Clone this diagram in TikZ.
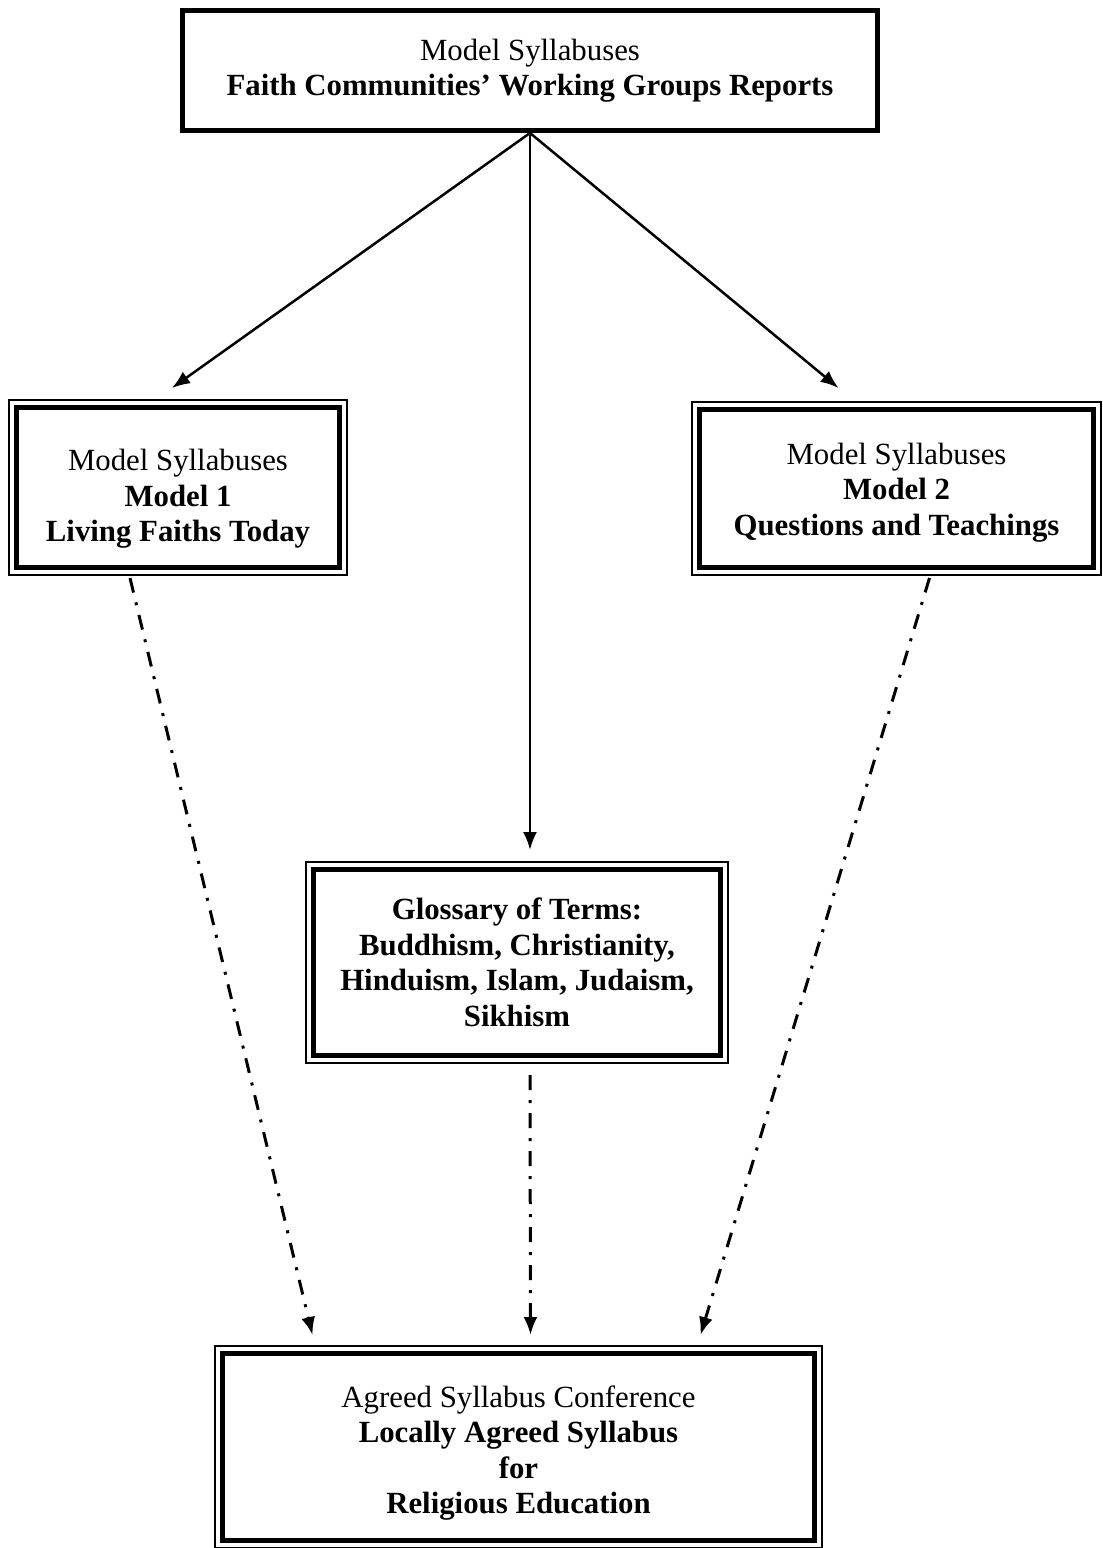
\documentclass[tikz,border=0pt]{standalone}
\usepackage{fontspec}
\setmainfont{Liberation Serif}
\usetikzlibrary{arrows.meta}

\tikzset{
  box/.style={draw, line width=2.5pt, align=center, inner sep=0pt,
    font=\fontsize{15.4}{17.75}\selectfont},
  dashdot/.style={line width=1.5pt, dash pattern=on 7.5pt off 5pt on 1.5pt off 5pt}
}

\begin{document}
\begin{tikzpicture}[x=0.5pt, y=-0.5pt, >={Latex[length=9pt,width=7pt]}]
    \useasboundingbox (0,0) rectangle (1103,1548);

    % Kästen
    \node[box, minimum width=347.5pt, minimum height=60pt] (top) at (530,70.5)
        {Model Syllabuses\\\textbf{Faith Communities' Working Groups Reports}};
    \node[box, minimum width=161.5pt, minimum height=80pt] (m1) at (178,487.5)
        {\rule{0pt}{22pt}Model Syllabuses\\\textbf{Model 1}\\\textbf{Living Faiths Today}};
    \node[box, minimum width=197pt, minimum height=79pt] (m2) at (896.5,488.5)
        {\rule{0pt}{14.8pt}Model Syllabuses\\\textbf{Model 2}\\\textbf{Questions and Teachings}};
    \node[box, minimum width=203.5pt, minimum height=93pt] (gloss) at (517,962.5)
        {\textbf{Glossary of Terms:}\\\textbf{Buddhism, Christianity,}\\
         \textbf{Hinduism, Islam, Judaism,}\\\textbf{Sikhism}};
    \node[box, minimum width=296pt, minimum height=93.5pt] (conf) at (518.5,1447)
        {\rule{0pt}{16.8pt}Agreed Syllabus Conference\\\textbf{Locally Agreed Syllabus}\\
         \textbf{for}\\\textbf{Religious Education}};

    % dünne Außenlinie
    \foreach \n in {m1,m2,gloss,conf} {
        \draw[line width=0.75pt] ([shift={(-2.5pt,2.5pt)}]\n.north west)
            rectangle ([shift={(2.5pt,-2.5pt)}]\n.south east);
    }

    % Pfeile
    \draw[->, line width=1.25pt] (top.south) -- ([shift={(-3pt,8.5pt)}]m1.north);
    \draw[->, line width=1.25pt] (top.south) -- ([shift={(-29pt,9.5pt)}]m2.north);
    \draw[->, line width=1.25pt] (top.south) -- ([shift={(6.5pt,8.5pt)}]gloss.north);

    \draw[->, dashdot] ([shift={(-24pt,-4pt)}]m1.south) -- ([shift={(-103pt,8pt)}]conf.north);
    \draw[->, dashdot] ([shift={(6.5pt,-8.5pt)}]gloss.south) -- ([shift={(6pt,8pt)}]conf.north);
    \draw[->, dashdot] ([shift={(16.5pt,-4pt)}]m2.south) -- ([shift={(91pt,8pt)}]conf.north);

\end{tikzpicture}
\end{document}
